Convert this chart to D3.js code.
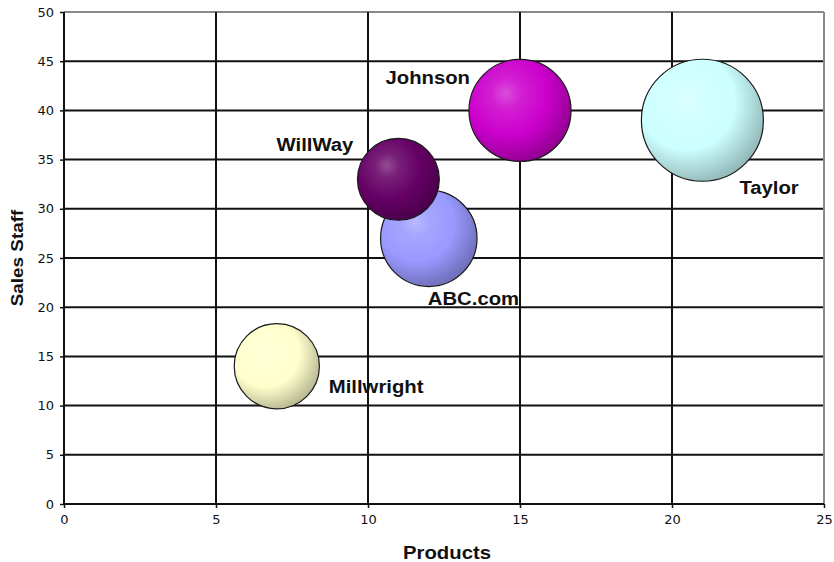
<!DOCTYPE html>
<html>
<head>
<meta charset="utf-8">
<script src="https://cdn.jsdelivr.net/npm/d3@7"></script>
<style>
  html, body { margin: 0; padding: 0; background: #fff; }
  svg { display: block; }
</style>
</head>
<body>
<svg id="chart" width="834" height="562"></svg>
<script>
// Companies compared by product count, sales staff and bubble size
const companies = ["Johnson", "Taylor", "WillWay", "ABC.com", "Millwright"];
const products  = [15, 21, 11, 12, 7];
const salesStaff = [40, 39, 33, 27, 14];
const bubbleSize = [28, 40, 18, 25, 19.5];
const fillColors = ["#CC00CC", "#CCFFFF", "#660066", "#9999FF", "#FFFFCC"];

const xTicks = [0, 5, 10, 15, 20, 25];
const yTicks = [0, 5, 10, 15, 20, 25, 30, 35, 40, 45, 50];

const xTitle = "Products";
const yTitle = "Sales Staff";

// Label placement around each bubble: anchor side and offset from the centre
const labelPlacement = {
  "Johnson":    { anchor: "end",   dx: -50, dy: -26 },
  "Taylor":     { anchor: "start", dx: 37,  dy: 74 },
  "WillWay":    { anchor: "end",   dx: -45, dy: -28 },
  "ABC.com":    { anchor: "start", dx: -1,  dy: 67 },
  "Millwright": { anchor: "start", dx: 52,  dy: 27 }
};

const svg = d3.select("#chart");
const plot = { left: 64, right: 824, top: 12, bottom: 504 };

const x = d3.scaleLinear().domain([0, 25]).range([plot.left, plot.right]);
const y = d3.scaleLinear().domain([0, 50]).range([plot.bottom, plot.top]);
const r = d3.scaleSqrt().domain([0, d3.max(bubbleSize)]).range([0, 61]);

const data = companies.map((name, i) => ({
  name,
  products: products[i],
  staff: salesStaff[i],
  size: bubbleSize[i],
  color: fillColors[i]
}));

// Gridlines
const grid = svg.append("g");
grid.selectAll("line.h").data(yTicks.filter(t => t > 0)).join("line")
  .attr("x1", plot.left).attr("x2", plot.right)
  .attr("y1", d => y(d)).attr("y2", d => y(d))
  .attr("stroke", d => d === 50 ? "#8a8a8a" : "#111")
  .attr("stroke-width", 2);
grid.selectAll("line.v").data(xTicks.filter(t => t > 0)).join("line")
  .attr("y1", plot.top).attr("y2", plot.bottom)
  .attr("x1", d => x(d)).attr("x2", d => x(d))
  .attr("stroke", d => d === 25 ? "#8a8a8a" : "#111")
  .attr("stroke-width", 2);

// Axes
const xAxis = d3.axisBottom(x).tickValues(xTicks).tickSize(4).tickPadding(7);
const yAxis = d3.axisLeft(y).tickValues(yTicks).tickSize(4).tickPadding(6);

const gx = svg.append("g").attr("transform", `translate(0,${plot.bottom})`).call(xAxis);
const gy = svg.append("g").attr("transform", `translate(${plot.left},0)`).call(yAxis);
[gx, gy].forEach(g => {
  g.select(".domain").attr("stroke", "#111").attr("stroke-width", 2);
  g.selectAll(".tick line").attr("stroke", "#111").attr("stroke-width", 1.5);
  g.selectAll(".tick text")
    .attr("fill", "#111")
    .style("font-family", "'DejaVu Sans', sans-serif")
    .style("font-size", "13px");
});
gy.select(".domain").attr("d", `M0,${plot.top}V${plot.bottom}`);
gx.select(".domain").attr("d", `M${plot.left},0H${plot.right}`);

// Gradients for the shaded bubbles
const defs = svg.append("defs");
data.forEach((d, i) => {
  const base = d3.color(d.color);
  const g = defs.append("radialGradient")
    .attr("id", "bub" + i)
    .attr("cx", "38%").attr("cy", "36%").attr("r", "68%")
    .attr("fx", "36%").attr("fy", "33%");
  g.append("stop").attr("offset", "0%").attr("stop-color", d3.interpolateRgb(base, "#fff")(0.3));
  g.append("stop").attr("offset", "22%").attr("stop-color", d3.interpolateRgb(base, "#fff")(0.12));
  g.append("stop").attr("offset", "58%").attr("stop-color", base.formatHex());
  g.append("stop").attr("offset", "100%").attr("stop-color", base.darker(0.95).formatHex());
});

// Bubbles: larger ones first so smaller ones sit on top
const order = data.map((d, i) => ({ ...d, i })).sort((a, b) => b.size - a.size);
svg.append("g").selectAll("circle").data(order).join("circle")
  .attr("cx", d => x(d.products))
  .attr("cy", d => y(d.staff))
  .attr("r", d => r(d.size))
  .attr("fill", d => `url(#bub${d.i})`)
  .attr("stroke", "#1a1a1a")
  .attr("stroke-width", 1.2);

// Data labels
const labelFont = "'Liberation Sans', Arial, sans-serif";
svg.append("g").selectAll("text").data(data).join("text")
  .attr("transform", d => {
    const p = labelPlacement[d.name];
    return `translate(${x(d.products) + p.dx},${y(d.staff) + p.dy}) scale(1.16,1)`;
  })
  .attr("text-anchor", d => labelPlacement[d.name].anchor)
  .style("font-family", labelFont)
  .style("font-weight", "bold")
  .style("font-size", "17.5px")
  .attr("fill", "#111")
  .text(d => d.name);

// Axis titles
svg.append("text")
  .attr("transform", `translate(447,559) scale(1.16,1)`)
  .attr("text-anchor", "middle")
  .style("font-family", labelFont).style("font-weight", "bold").style("font-size", "17.5px")
  .attr("fill", "#111")
  .text(xTitle);

svg.append("text")
  .attr("transform", `translate(23,258) rotate(-90) scale(1.18,1)`)
  .attr("text-anchor", "middle")
  .style("font-family", labelFont).style("font-weight", "bold").style("font-size", "16px")
  .attr("fill", "#111")
  .text(yTitle);
</script>
</body>
</html>
